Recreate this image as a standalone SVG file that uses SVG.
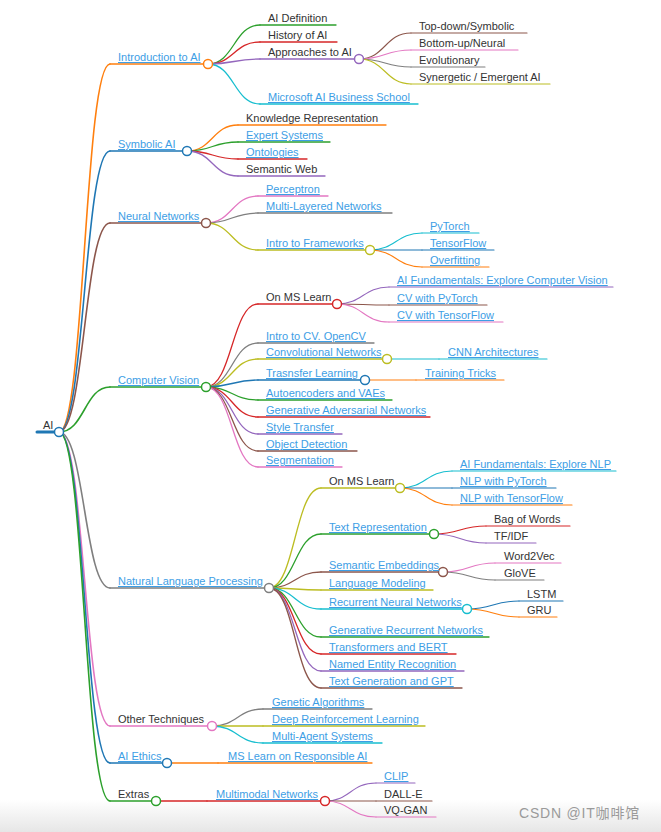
<svg xmlns="http://www.w3.org/2000/svg" width="661" height="832" viewBox="0 0 661 832">
<defs>
<linearGradient id="bot" x1="0" y1="0" x2="0" y2="1">
<stop offset="0" stop-color="#ffffff"/>
<stop offset="1" stop-color="#e6e6e6"/>
</linearGradient>
<style>
.t{font-family:"Liberation Sans",Arial,sans-serif;font-size:11px;fill:#333}
.a{fill:#3d9ee5;text-decoration:underline}
.k{fill:none;stroke-linecap:round}
.d0{stroke-width:3}
.d1{stroke-width:1.6}
.d2{stroke-width:1.3}
.d3{stroke-width:1.1}
circle{fill:#fff;stroke-width:1.5}
.c0{stroke:#1f77b4}.c1{stroke:#ff7f0e}.c2{stroke:#2ca02c}.c3{stroke:#d62728}.c4{stroke:#9467bd}
.c5{stroke:#8c564b}.c6{stroke:#e377c2}.c7{stroke:#7f7f7f}.c8{stroke:#bcbd22}.c9{stroke:#17becf}
.wm{font-family:"Liberation Sans",Arial,"Noto Sans CJK SC",sans-serif;font-size:14px;fill:#9a9a9a;letter-spacing:0.8px}
</style>
</defs>
<rect x="0" y="0" width="661" height="832" fill="#fff"/>
<rect x="0" y="800" width="661" height="32" fill="url(#bot)"/>

<g id="links" class="k">
<path class="d1 c1" d="M59 432C84.5 432 84.5 64 110 64"/>
<path class="d1 c0" d="M59 432C84.5 432 84.5 151 110 151"/>
<path class="d1 c5" d="M59 432C84.5 432 84.5 223 110 223"/>
<path class="d1 c2" d="M59 432C84.5 432 84.5 387 110 387"/>
<path class="d1 c7" d="M59 432C84.5 432 84.5 588 110 588"/>
<path class="d1 c6" d="M59 432C84.5 432 84.5 726 110 726"/>
<path class="d1 c0" d="M59 432C84.5 432 84.5 763 110 763"/>
<path class="d1 c2" d="M59 432C84.5 432 84.5 801 110 801"/>

<path class="d2 c2" d="M208 64C234 64 234 25 260 25"/>
<path class="d2 c3" d="M208 64C234 64 234 42 260 42"/>
<path class="d2 c4" d="M208 64C234 64 234 59 260 59"/>
<path class="d2 c9" d="M208 64C234 64 234 104 260 104"/>

<path class="d3 c5" d="M359 59C385 59 385 33 411 33"/>
<path class="d3 c6" d="M359 59C385 59 385 50 411 50"/>
<path class="d3 c7" d="M359 59C385 59 385 67 411 67"/>
<path class="d3 c8" d="M359 59C385 59 385 84 411 84"/>

<path class="d2 c1" d="M187 151C212.5 151 212.5 125 238 125"/>
<path class="d2 c2" d="M187 151C212.5 151 212.5 142 238 142"/>
<path class="d2 c3" d="M187 151C212.5 151 212.5 159 238 159"/>
<path class="d2 c4" d="M187 151C212.5 151 212.5 176 238 176"/>

<path class="d2 c6" d="M206 223C232 223 232 196 258 196"/>
<path class="d2 c7" d="M206 223C232 223 232 213 258 213"/>
<path class="d2 c8" d="M206 223C232 223 232 250 258 250"/>

<path class="d3 c9" d="M370 250C396 250 396 233 422 233"/>
<path class="d3 c0" d="M370 250C396 250 396 250 422 250"/>
<path class="d3 c1" d="M370 250C396 250 396 267 422 267"/>

<path class="d2 c3" d="M206 387C232 387 232 304 258 304"/>
<path class="d2 c7" d="M206 387C232 387 232 343 258 343"/>
<path class="d2 c8" d="M206 387C232 387 232 359 258 359"/>
<path class="d2 c0" d="M206 387C232 387 232 380 258 380"/>
<path class="d2 c2" d="M206 387C232 387 232 400 258 400"/>
<path class="d2 c3" d="M206 387C232 387 232 417 258 417"/>
<path class="d2 c4" d="M206 387C232 387 232 434 258 434"/>
<path class="d2 c5" d="M206 387C232 387 232 451 258 451"/>
<path class="d2 c6" d="M206 387C232 387 232 467 258 467"/>

<path class="d3 c4" d="M337 304C363 304 363 287 389 287"/>
<path class="d3 c5" d="M337 304C363 304 363 305 389 305"/>
<path class="d3 c6" d="M337 304C363 304 363 322 389 322"/>
<path class="d3 c9" d="M387 359L439 359"/>
<path class="d3 c1" d="M365 380L416 380"/>

<path class="d2 c8" d="M269 588C295 588 295 488 321 488"/>
<path class="d2 c2" d="M269 588C295 588 295 534 321 534"/>
<path class="d2 c5" d="M269 588C295 588 295 572 321 572"/>
<path class="d2 c8" d="M269 588C295 588 295 590 321 590"/>
<path class="d2 c9" d="M269 588C295 588 295 609 321 609"/>
<path class="d2 c2" d="M269 588C295 588 295 637 321 637"/>
<path class="d2 c3" d="M269 588C295 588 295 654 321 654"/>
<path class="d2 c4" d="M269 588C295 588 295 671 321 671"/>
<path class="d2 c5" d="M269 588C295 588 295 688 321 688"/>

<path class="d3 c9" d="M400 488C426 488 426 471 452 471"/>
<path class="d3 c0" d="M400 488C426 488 426 488 452 488"/>
<path class="d3 c1" d="M400 488C426 488 426 505 452 505"/>
<path class="d3 c3" d="M434 534C460 534 460 526 486 526"/>
<path class="d3 c4" d="M434 534C460 534 460 543 486 543"/>
<path class="d3 c6" d="M443 572C469 572 469 563 495 563"/>
<path class="d3 c7" d="M443 572C469 572 469 580 495 580"/>
<path class="d3 c0" d="M467 609C493 609 493 601 519 601"/>
<path class="d3 c1" d="M467 609C493 609 493 617 519 617"/>

<path class="d2 c7" d="M212 726C237.5 726 237.5 709 263 709"/>
<path class="d2 c8" d="M212 726C237.5 726 237.5 726 263 726"/>
<path class="d2 c9" d="M212 726C237.5 726 237.5 743 263 743"/>
<path class="d2 c1" d="M167 763L218 763"/>
<path class="d2 c3" d="M156 801L207 801"/>
<path class="d3 c4" d="M325 801C350.5 801 350.5 783 376 783"/>
<path class="d3 c5" d="M325 801C350.5 801 350.5 801 376 801"/>
<path class="d3 c6" d="M325 801C350.5 801 350.5 817 376 817"/>
</g>

<g id="n-root"><line class="k d0 c0" x1="37" y1="432" x2="59" y2="432"/><circle class="c0" cx="59" cy="432" r="4.5"/><text class="t" x="43" y="429">AI</text></g>

<g id="n-intro"><line class="k d1 c1" x1="110" y1="64" x2="208" y2="64"/><circle class="c1" cx="208" cy="64" r="4.5"/><text class="t a" x="118" y="61">Introduction to AI</text></g>
<g id="n-def"><line class="k d2 c2" x1="260" y1="25" x2="336" y2="25"/><text class="t" x="268" y="22">AI Definition</text></g>
<g id="n-hist"><line class="k d2 c3" x1="260" y1="42" x2="337" y2="42"/><text class="t" x="268" y="39">History of AI</text></g>
<g id="n-appr"><line class="k d2 c4" x1="260" y1="59" x2="359" y2="59"/><circle class="c4" cx="359" cy="59" r="4.5"/><text class="t" x="268" y="56">Approaches to AI</text></g>
<g id="n-topdown"><line class="k d3 c5" x1="411" y1="33" x2="527" y2="33"/><text class="t" x="419" y="30">Top-down/Symbolic</text></g>
<g id="n-bottomup"><line class="k d3 c6" x1="411" y1="50" x2="518" y2="50"/><text class="t" x="419" y="47">Bottom-up/Neural</text></g>
<g id="n-evol"><line class="k d3 c7" x1="411" y1="67" x2="485" y2="67"/><text class="t" x="419" y="64">Evolutionary</text></g>
<g id="n-syn"><line class="k d3 c8" x1="411" y1="84" x2="550" y2="84"/><text class="t" x="419" y="81">Synergetic / Emergent AI</text></g>
<g id="n-msbiz"><line class="k d2 c9" x1="260" y1="104" x2="418" y2="104"/><text class="t a" x="268" y="101">Microsoft AI Business School</text></g>

<g id="n-symb"><line class="k d1 c0" x1="110" y1="151" x2="187" y2="151"/><circle class="c0" cx="187" cy="151" r="4.5"/><text class="t a" x="118" y="148">Symbolic AI</text></g>
<g id="n-know"><line class="k d2 c1" x1="238" y1="125" x2="386" y2="125"/><text class="t" x="246" y="122">Knowledge Representation</text></g>
<g id="n-expert"><line class="k d2 c2" x1="238" y1="142" x2="330" y2="142"/><text class="t a" x="246" y="139">Expert Systems</text></g>
<g id="n-onto"><line class="k d2 c3" x1="238" y1="159" x2="307" y2="159"/><text class="t a" x="246" y="156">Ontologies</text></g>
<g id="n-semweb"><line class="k d2 c4" x1="238" y1="176" x2="325" y2="176"/><text class="t" x="246" y="173">Semantic Web</text></g>

<g id="n-nn"><line class="k d1 c5" x1="110" y1="223" x2="206" y2="223"/><circle class="c5" cx="206" cy="223" r="4.5"/><text class="t a" x="118" y="220">Neural Networks</text></g>
<g id="n-perc"><line class="k d2 c6" x1="258" y1="196" x2="328" y2="196"/><text class="t a" x="266" y="193">Perceptron</text></g>
<g id="n-mln"><line class="k d2 c7" x1="258" y1="213" x2="392" y2="213"/><text class="t a" x="266" y="210">Multi-Layered Networks</text></g>
<g id="n-fw"><line class="k d2 c8" x1="258" y1="250" x2="370" y2="250"/><circle class="c8" cx="370" cy="250" r="4.5"/><text class="t a" x="266" y="247">Intro to Frameworks</text></g>
<g id="n-pytorch"><line class="k d3 c9" x1="422" y1="233" x2="479" y2="233"/><text class="t a" x="430" y="230">PyTorch</text></g>
<g id="n-tf"><line class="k d3 c0" x1="422" y1="250" x2="494" y2="250"/><text class="t a" x="430" y="247">TensorFlow</text></g>
<g id="n-overfit"><line class="k d3 c1" x1="422" y1="267" x2="489" y2="267"/><text class="t a" x="430" y="264">Overfitting</text></g>

<g id="n-cv"><line class="k d1 c2" x1="110" y1="387" x2="206" y2="387"/><circle class="c2" cx="206" cy="387" r="4.5"/><text class="t a" x="118" y="384">Computer Vision</text></g>
<g id="n-cvms"><line class="k d2 c3" x1="258" y1="304" x2="337" y2="304"/><circle class="c3" cx="337" cy="304" r="4.5"/><text class="t" x="266" y="301">On MS Learn</text></g>
<g id="n-cvfund"><line class="k d3 c4" x1="389" y1="287" x2="613" y2="287"/><text class="t a" x="397" y="284">AI Fundamentals: Explore Computer Vision</text></g>
<g id="n-cvpt"><line class="k d3 c5" x1="389" y1="305" x2="487" y2="305"/><text class="t a" x="397" y="302">CV with PyTorch</text></g>
<g id="n-cvtf"><line class="k d3 c6" x1="389" y1="322" x2="503" y2="322"/><text class="t a" x="397" y="319">CV with TensorFlow</text></g>
<g id="n-opencv"><line class="k d2 c7" x1="258" y1="343" x2="374" y2="343"/><text class="t a" x="266" y="340">Intro to CV. OpenCV</text></g>
<g id="n-conv"><line class="k d2 c8" x1="258" y1="359" x2="387" y2="359"/><circle class="c8" cx="387" cy="359" r="4.5"/><text class="t a" x="266" y="356">Convolutional Networks</text></g>
<g id="n-cnnarch"><line class="k d3 c9" x1="439" y1="359" x2="547" y2="359"/><text class="t a" x="448" y="356">CNN Architectures</text></g>
<g id="n-transfer"><line class="k d2 c0" x1="258" y1="380" x2="365" y2="380"/><circle class="c0" cx="365" cy="380" r="4.5"/><text class="t a" x="266" y="377">Trasnsfer Learning</text></g>
<g id="n-tricks"><line class="k d3 c1" x1="416" y1="380" x2="504" y2="380"/><text class="t a" x="425" y="377">Training Tricks</text></g>
<g id="n-ae"><line class="k d2 c2" x1="258" y1="400" x2="392" y2="400"/><text class="t a" x="266" y="397">Autoencoders and VAEs</text></g>
<g id="n-gan"><line class="k d2 c3" x1="258" y1="417" x2="430" y2="417"/><text class="t a" x="266" y="414">Generative Adversarial Networks</text></g>
<g id="n-style"><line class="k d2 c4" x1="258" y1="434" x2="342" y2="434"/><text class="t a" x="266" y="431">Style Transfer</text></g>
<g id="n-objdet"><line class="k d2 c5" x1="258" y1="451" x2="357" y2="451"/><text class="t a" x="266" y="448">Object Detection</text></g>
<g id="n-seg"><line class="k d2 c6" x1="258" y1="467" x2="342" y2="467"/><text class="t a" x="266" y="464">Segmentation</text></g>

<g id="n-nlp"><line class="k d1 c7" x1="110" y1="588" x2="269" y2="588"/><circle class="c7" cx="269" cy="588" r="4.5"/><text class="t a" x="118" y="585">Natural Language Processing</text></g>
<g id="n-nlpms"><line class="k d2 c8" x1="321" y1="488" x2="400" y2="488"/><circle class="c8" cx="400" cy="488" r="4.5"/><text class="t" x="329" y="485">On MS Learn</text></g>
<g id="n-nlpfund"><line class="k d3 c9" x1="452" y1="471" x2="616" y2="471"/><text class="t a" x="460" y="468">AI Fundamentals: Explore NLP</text></g>
<g id="n-nlppt"><line class="k d3 c0" x1="452" y1="488" x2="556" y2="488"/><text class="t a" x="460" y="485">NLP with PyTorch</text></g>
<g id="n-nlptf"><line class="k d3 c1" x1="452" y1="505" x2="572" y2="505"/><text class="t a" x="460" y="502">NLP with TensorFlow</text></g>
<g id="n-textrep"><line class="k d2 c2" x1="321" y1="534" x2="434" y2="534"/><circle class="c2" cx="434" cy="534" r="4.5"/><text class="t a" x="329" y="531">Text Representation</text></g>
<g id="n-bow"><line class="k d3 c3" x1="486" y1="526" x2="570" y2="526"/><text class="t" x="494" y="523">Bag of Words</text></g>
<g id="n-tfidf"><line class="k d3 c4" x1="486" y1="543" x2="536" y2="543"/><text class="t" x="494" y="540">TF/IDF</text></g>
<g id="n-sememb"><line class="k d2 c5" x1="321" y1="572" x2="443" y2="572"/><circle class="c5" cx="443" cy="572" r="4.5"/><text class="t a" x="329" y="569">Semantic Embeddings</text></g>
<g id="n-w2v"><line class="k d3 c6" x1="495" y1="563" x2="561" y2="563"/><text class="t" x="504" y="560">Word2Vec</text></g>
<g id="n-glove"><line class="k d3 c7" x1="495" y1="580" x2="544" y2="580"/><text class="t" x="504" y="577">GloVE</text></g>
<g id="n-lm"><line class="k d2 c8" x1="321" y1="590" x2="433" y2="590"/><text class="t a" x="329" y="587">Language Modeling</text></g>
<g id="n-rnn"><line class="k d2 c9" x1="321" y1="609" x2="467" y2="609"/><circle class="c9" cx="467" cy="609" r="4.5"/><text class="t a" x="329" y="606">Recurrent Neural Networks</text></g>
<g id="n-lstm"><line class="k d3 c0" x1="519" y1="601" x2="563" y2="601"/><text class="t" x="527" y="598">LSTM</text></g>
<g id="n-gru"><line class="k d3 c1" x1="519" y1="617" x2="557" y2="617"/><text class="t" x="527" y="614">GRU</text></g>
<g id="n-genrnn"><line class="k d2 c2" x1="321" y1="637" x2="489" y2="637"/><text class="t a" x="329" y="634">Generative Recurrent Networks</text></g>
<g id="n-bert"><line class="k d2 c3" x1="321" y1="654" x2="456" y2="654"/><text class="t a" x="329" y="651">Transformers and BERT</text></g>
<g id="n-ner"><line class="k d2 c4" x1="321" y1="671" x2="464" y2="671"/><text class="t a" x="329" y="668">Named Entity Recognition</text></g>
<g id="n-gpt"><line class="k d2 c5" x1="321" y1="688" x2="462" y2="688"/><text class="t a" x="329" y="685">Text Generation and GPT</text></g>

<g id="n-other"><line class="k d1 c6" x1="110" y1="726" x2="212" y2="726"/><circle class="c6" cx="212" cy="726" r="4.5"/><text class="t" x="118" y="723">Other Techniques</text></g>
<g id="n-genetic"><line class="k d2 c7" x1="263" y1="709" x2="372" y2="709"/><text class="t a" x="272" y="706">Genetic Algorithms</text></g>
<g id="n-drl"><line class="k d2 c8" x1="263" y1="726" x2="425" y2="726"/><text class="t a" x="272" y="723">Deep Reinforcement Learning</text></g>
<g id="n-mas"><line class="k d2 c9" x1="263" y1="743" x2="382" y2="743"/><text class="t a" x="272" y="740">Multi-Agent Systems</text></g>

<g id="n-ethics"><line class="k d1 c0" x1="110" y1="763" x2="167" y2="763"/><circle class="c0" cx="167" cy="763" r="4.5"/><text class="t a" x="118" y="760">AI Ethics</text></g>
<g id="n-respai"><line class="k d2 c1" x1="218" y1="763" x2="372" y2="763"/><text class="t a" x="228" y="760">MS Learn on Responsible AI</text></g>

<g id="n-extras"><line class="k d1 c2" x1="110" y1="801" x2="156" y2="801"/><circle class="c2" cx="156" cy="801" r="4.5"/><text class="t" x="118" y="798">Extras</text></g>
<g id="n-multimodal"><line class="k d2 c3" x1="207" y1="801" x2="325" y2="801"/><circle class="c3" cx="325" cy="801" r="4.5"/><text class="t a" x="216" y="798">Multimodal Networks</text></g>
<g id="n-clip"><line class="k d3 c4" x1="376" y1="783" x2="415" y2="783"/><text class="t a" x="384" y="780">CLIP</text></g>
<g id="n-dalle"><line class="k d3 c5" x1="376" y1="801" x2="432" y2="801"/><text class="t" x="384" y="798">DALL-E</text></g>
<g id="n-vqgan"><line class="k d3 c6" x1="376" y1="817" x2="436" y2="817"/><text class="t" x="384" y="814">VQ-GAN</text></g>

<text class="wm" x="519" y="818">CSDN @IT咖啡馆</text>
</svg>
